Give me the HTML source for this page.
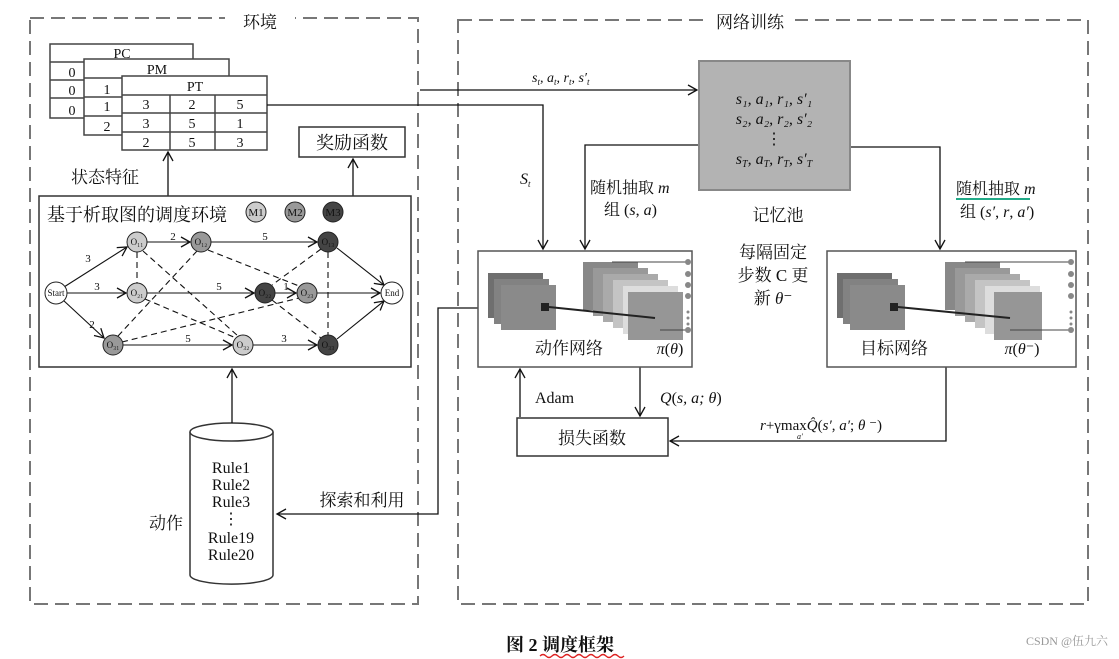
<!DOCTYPE html>
<html><head><meta charset="utf-8"><style>
body{margin:0;background:#fff;}
svg{display:block;}
text{font-family:"Liberation Serif","Noto Serif CJK SC",serif;fill:#111;}
.cj{font-family:"Liberation Serif","Noto Serif CJK SC",serif;}
.i{font-style:italic;}
</style></head><body>
<svg width="1119" height="659" viewBox="0 0 1119 659" xmlns="http://www.w3.org/2000/svg">
<defs>
<marker id="a" markerWidth="12" markerHeight="12" refX="10" refY="6" orient="auto" markerUnits="userSpaceOnUse"><path d="M1,1 L10,6 L1,11" fill="none" stroke="#111" stroke-width="1.3"/></marker>
</defs>
<g fill="none" stroke="#777" stroke-width="2" stroke-dasharray="14,7">
<rect x="30" y="18" width="388" height="586"/>
<rect x="458" y="20" width="630" height="584"/>
</g>
<rect x="225" y="10" width="70" height="22" fill="#fff"/>
<text x="260" y="28" font-size="17" text-anchor="middle" class="cj">环境</text>
<rect x="705" y="10" width="90" height="22" fill="#fff"/>
<text x="750" y="28" font-size="17" text-anchor="middle" class="cj">网络训练</text>

<!-- tables -->
<g stroke="#444" stroke-width="1.5" fill="#fff">
<rect x="50" y="44" width="143" height="74"/>
<line x1="50" y1="62" x2="193" y2="62"/><line x1="50" y1="80" x2="193" y2="80"/><line x1="50" y1="98" x2="193" y2="98"/>
<rect x="84" y="59" width="145" height="76"/>
<line x1="84" y1="78" x2="229" y2="78"/><line x1="84" y1="97" x2="229" y2="97"/><line x1="84" y1="116" x2="229" y2="116"/>
<rect x="122" y="76" width="145" height="74"/>
<line x1="122" y1="95" x2="267" y2="95"/><line x1="122" y1="113" x2="267" y2="113"/><line x1="122" y1="132" x2="267" y2="132"/>
<line x1="170" y1="95" x2="170" y2="150"/><line x1="215" y1="95" x2="215" y2="150"/>
</g>
<g font-size="14" text-anchor="middle">
<text x="122" y="58">PC</text><text x="157" y="74">PM</text><text x="195" y="91">PT</text>
<text x="72" y="77">0</text><text x="72" y="95">0</text><text x="72" y="115">0</text>
<text x="107" y="94">1</text><text x="107" y="111">1</text><text x="107" y="131">2</text>
<text x="146" y="109">3</text><text x="192" y="109">2</text><text x="240" y="109">5</text>
<text x="146" y="128">3</text><text x="192" y="128">5</text><text x="240" y="128">1</text>
<text x="146" y="147">2</text><text x="192" y="147">5</text><text x="240" y="147">3</text>
</g>
<rect x="299" y="127" width="106" height="30" fill="#fff" stroke="#333" stroke-width="1.5"/>
<text x="352" y="149" font-size="18" text-anchor="middle" class="cj">奖励函数</text>
<g stroke="#111" stroke-width="1.3" fill="none">
<line x1="168" y1="196" x2="168" y2="152" marker-end="url(#a)"/>
<line x1="353" y1="196" x2="353" y2="159" marker-end="url(#a)"/>
</g>
<text x="105" y="183" font-size="17" text-anchor="middle" class="cj">状态特征</text>

<!-- graph -->
<rect x="39" y="196" width="372" height="171" fill="#fff" stroke="#333" stroke-width="1.5"/>
<text x="47" y="221" font-size="18" class="cj">基于析取图的调度环境</text>
<g stroke="#222" stroke-width="1">
<circle cx="256" cy="212" r="10" fill="#ccc"/><circle cx="295" cy="212" r="10" fill="#999"/><circle cx="333" cy="212" r="10" fill="#444"/>
</g>
<g font-size="11" text-anchor="middle"><text x="256" y="216">M1</text><text x="295" y="216">M2</text><text x="333" y="216">M3</text></g>
<g stroke="#111" stroke-width="1.1" fill="none" stroke-dasharray="6,4">
<line x1="137" y1="252" x2="137" y2="283"/>
<line x1="143" y1="251" x2="238" y2="336"/>
<line x1="197" y1="251" x2="118" y2="336"/>
<line x1="208" y1="250" x2="299" y2="286"/>
<line x1="321" y1="249" x2="272" y2="285"/>
<line x1="328" y1="252" x2="328" y2="335"/>
<line x1="145" y1="299" x2="236" y2="338"/>
<line x1="272" y1="300" x2="321" y2="338"/>
<line x1="122" y1="342" x2="299" y2="298"/>
</g>
<g stroke="#111" stroke-width="1.1" fill="none">
<line x1="64" y1="287" x2="127" y2="247" marker-end="url(#a)"/>
<line x1="67" y1="293" x2="126" y2="293" marker-end="url(#a)"/>
<line x1="63" y1="300" x2="104" y2="338" marker-end="url(#a)"/>
<line x1="147" y1="242" x2="190" y2="242" marker-end="url(#a)"/>
<line x1="211" y1="242" x2="317" y2="242" marker-end="url(#a)"/>
<line x1="147" y1="293" x2="254" y2="293" marker-end="url(#a)"/>
<line x1="275" y1="293" x2="296" y2="293" marker-end="url(#a)"/>
<line x1="317" y1="293" x2="380" y2="293" marker-end="url(#a)"/>
<line x1="123" y1="345" x2="232" y2="345" marker-end="url(#a)"/>
<line x1="253" y1="345" x2="317" y2="345" marker-end="url(#a)"/>
<line x1="337" y1="248" x2="384" y2="285" marker-end="url(#a)"/>
<line x1="337" y1="339" x2="384" y2="301" marker-end="url(#a)"/>
</g>
<g stroke="#222" stroke-width="1">
<circle cx="56" cy="293" r="11" fill="#fff"/>
<circle cx="137" cy="242" r="10" fill="#ccc"/><circle cx="201" cy="242" r="10" fill="#999"/><circle cx="328" cy="242" r="10" fill="#444"/>
<circle cx="137" cy="293" r="10" fill="#ccc"/><circle cx="265" cy="293" r="10" fill="#444"/><circle cx="307" cy="293" r="10" fill="#999"/>
<circle cx="392" cy="293" r="11" fill="#fff"/>
<circle cx="113" cy="345" r="10" fill="#999"/><circle cx="243" cy="345" r="10" fill="#ccc"/><circle cx="328" cy="345" r="10" fill="#444"/>
</g>
<g font-size="9" text-anchor="middle">
<text x="56" y="296">Start</text><text x="392" y="296">End</text>
<text x="137" y="245">O₁₁</text><text x="201" y="245">O₁₂</text><text x="328" y="245">O₁₃</text>
<text x="137" y="296">O₂₁</text><text x="265" y="296">O₂₂</text><text x="307" y="296">O₂₃</text>
<text x="113" y="348">O₃₁</text><text x="243" y="348">O₃₂</text><text x="328" y="348">O₃₃</text>
</g>
<g font-size="11" text-anchor="middle">
<text x="88" y="262">3</text><text x="97" y="290">3</text><text x="92" y="328">2</text>
<text x="173" y="240">2</text><text x="265" y="240">5</text><text x="219" y="290">5</text><text x="286" y="290">1</text>
<text x="188" y="342">5</text><text x="284" y="342">3</text>
</g>

<!-- cylinder -->
<path d="M190,432 L190,575 A41,9 0 0 0 273,575 L273,432" fill="#fff" stroke="#333" stroke-width="1.5"/>
<ellipse cx="231.5" cy="432" rx="41.5" ry="9" fill="#fff" stroke="#333" stroke-width="1.5"/>
<g font-size="16" text-anchor="middle">
<text x="231" y="473">Rule1</text><text x="231" y="490">Rule2</text><text x="231" y="507">Rule3</text><text x="231" y="524">⋮</text>
<text x="231" y="543">Rule19</text><text x="231" y="560">Rule20</text>
</g>
<text x="166" y="529" font-size="17" text-anchor="middle" class="cj">动作</text>
<text x="362" y="506" font-size="17" text-anchor="middle" class="cj">探索和利用</text>
<g stroke="#111" stroke-width="1.3" fill="none">
<line x1="232" y1="423" x2="232" y2="369" marker-end="url(#a)"/>
<polyline points="478,308 438,308 438,514 277,514" marker-end="url(#a)"/>
<polyline points="267,105 543,105 543,249" marker-end="url(#a)"/>
<line x1="420" y1="90" x2="697" y2="90" marker-end="url(#a)"/>
<polyline points="698,145 585,145 585,249" marker-end="url(#a)"/>
<polyline points="850,147 940,147 940,249" marker-end="url(#a)"/>
<line x1="520" y1="417" x2="520" y2="369" marker-end="url(#a)"/>
<line x1="640" y1="367" x2="640" y2="416" marker-end="url(#a)"/>
<polyline points="946,367 946,441 670,441" marker-end="url(#a)"/>
</g>
<text x="532" y="82" font-size="14" class="i">s<tspan font-size="9" dy="3">t</tspan><tspan dy="-3">, a</tspan><tspan font-size="9" dy="3">t</tspan><tspan dy="-3">, r</tspan><tspan font-size="9" dy="3">t</tspan><tspan dy="-3">, s′</tspan><tspan font-size="9" dy="3">t</tspan></text>
<text x="520" y="184" font-size="16" class="i">S<tspan font-size="9" dy="3">t</tspan></text>

<!-- memory -->
<rect x="699" y="61" width="151" height="129" fill="#b3b3b3" stroke="#888" stroke-width="2"/>
<g font-size="16" class="i" text-anchor="middle">
<text x="774" y="104">s₁, a₁, r₁, s′₁</text>
<text x="774" y="124">s₂, a₂, r₂, s′₂</text>
<text x="774" y="144" font-style="normal">⋮</text>
<text x="774" y="164">s<tspan font-size="10" dy="3">T</tspan><tspan dy="-3">, a</tspan><tspan font-size="10" dy="3">T</tspan><tspan dy="-3">, r</tspan><tspan font-size="10" dy="3">T</tspan><tspan dy="-3">, s′</tspan><tspan font-size="10" dy="3">T</tspan></text>
</g>
<text x="778" y="221" font-size="17" text-anchor="middle" class="cj">记忆池</text>
<text x="590" y="193" font-size="16" class="cj">随机抽取 <tspan class="i">m</tspan></text>
<text x="604" y="215" font-size="16" class="cj">组 (<tspan class="i">s</tspan>, <tspan class="i">a</tspan>)</text>
<text x="956" y="194" font-size="16" class="cj">随机抽取 <tspan class="i">m</tspan></text>
<line x1="956" y1="199" x2="1030" y2="199" stroke="#2a8" stroke-width="2"/>
<text x="960" y="217" font-size="16" class="cj">组 (<tspan class="i">s′</tspan>, <tspan class="i">r</tspan>, <tspan class="i">a′</tspan>)</text>

<!-- action net -->
<rect x="478" y="251" width="214" height="116" fill="#fff" stroke="#555" stroke-width="1.5"/>
<rect x="583" y="262" width="55" height="48" fill="#888"/>
<rect x="593" y="268" width="55" height="48" fill="#999"/>
<rect x="603" y="274" width="55" height="48" fill="#aaa"/>
<rect x="613" y="280" width="55" height="48" fill="#c4c4c4"/>
<rect x="623" y="286" width="55" height="48" fill="#ddd"/>
<rect x="488" y="273" width="55" height="45" fill="#6f6f6f"/>
<rect x="494" y="279" width="55" height="45" fill="#828282"/>
<rect x="501" y="285" width="55" height="45" fill="#8a8a8a"/>
<rect x="628" y="292" width="55" height="48" fill="#969696"/>
<rect x="541" y="303" width="8" height="8" fill="#222"/>
<line x1="549" y1="307" x2="655" y2="318" stroke="#222" stroke-width="2"/>
<line x1="612" y1="262" x2="688" y2="262" stroke="#444"/>
<line x1="660" y1="330" x2="688" y2="330" stroke="#444"/>
<g fill="#888"><circle cx="688" cy="262" r="3"/><circle cx="688" cy="274" r="3"/><circle cx="688" cy="285" r="3"/><circle cx="688" cy="296" r="3"/><circle cx="688" cy="312" r="1.5"/><circle cx="688" cy="318" r="1.5"/><circle cx="688" cy="324" r="1.5"/><circle cx="688" cy="330" r="3"/></g>

<!-- target net -->
<rect x="827" y="251" width="249" height="116" fill="#fff" stroke="#555" stroke-width="1.5"/>
<rect x="945" y="262" width="55" height="48" fill="#888"/>
<rect x="955" y="268" width="55" height="48" fill="#999"/>
<rect x="965" y="274" width="55" height="48" fill="#aaa"/>
<rect x="975" y="280" width="55" height="48" fill="#c4c4c4"/>
<rect x="985" y="286" width="55" height="48" fill="#ddd"/>
<rect x="837" y="273" width="55" height="45" fill="#6f6f6f"/>
<rect x="843" y="279" width="55" height="45" fill="#828282"/>
<rect x="850" y="285" width="55" height="45" fill="#8a8a8a"/>
<rect x="994" y="292" width="48" height="48" fill="#969696"/>
<rect x="890" y="303" width="8" height="8" fill="#222"/>
<line x1="898" y1="307" x2="1010" y2="318" stroke="#222" stroke-width="2"/>
<line x1="965" y1="262" x2="1071" y2="262" stroke="#444"/>
<line x1="1010" y1="330" x2="1071" y2="330" stroke="#444"/>
<g fill="#888"><circle cx="1071" cy="262" r="3"/><circle cx="1071" cy="274" r="3"/><circle cx="1071" cy="285" r="3"/><circle cx="1071" cy="296" r="3"/><circle cx="1071" cy="312" r="1.5"/><circle cx="1071" cy="318" r="1.5"/><circle cx="1071" cy="324" r="1.5"/><circle cx="1071" cy="330" r="3"/></g>

<text x="569" y="354" font-size="17" text-anchor="middle" class="cj">动作网络</text>
<text x="670" y="354" font-size="16" text-anchor="middle"><tspan class="i">π</tspan>(<tspan class="i">θ</tspan>)</text>
<text x="894" y="354" font-size="17" text-anchor="middle" class="cj">目标网络</text>
<text x="1022" y="354" font-size="16" text-anchor="middle"><tspan class="i">π</tspan>(<tspan class="i">θ</tspan>⁻)</text>
<g font-size="17" text-anchor="middle" class="cj">
<text x="773" y="258">每隔固定</text><text x="773" y="281">步数 C 更</text><text x="773" y="304">新 <tspan class="i">θ</tspan>⁻</text>
</g>

<rect x="517" y="418" width="151" height="38" fill="#fff" stroke="#333" stroke-width="1.5"/>
<text x="592" y="444" font-size="17" text-anchor="middle" class="cj">损失函数</text>
<text x="535" y="403" font-size="16">Adam</text>
<text x="660" y="403" font-size="16" class="i">Q<tspan font-style="normal">(</tspan>s, a; θ<tspan font-style="normal">)</tspan></text>
<text x="760" y="430" font-size="15"><tspan class="i">r</tspan>+γmax<tspan class="i">Q̂</tspan>(<tspan class="i">s′</tspan>, <tspan class="i">a′</tspan>; <tspan class="i">θ</tspan> ⁻)</text>
<text x="797" y="439" font-size="8" class="i">a′</text>

<text x="560" y="651" font-size="18" font-weight="bold" text-anchor="middle" class="cj">图 2  调度框架</text>
<path d="M540,656 q3,-3 6,0 t6,0 t6,0 t6,0 t6,0 t6,0 t6,0 t6,0 t6,0 t6,0 t6,0 t6,0 t6,0 t6,0" stroke="#d22" stroke-width="1.3" fill="none"/>
<text x="1108" y="645" font-size="12" text-anchor="end" style="fill:#999" class="cj">CSDN @伍九六</text>
</svg>
</body></html>
